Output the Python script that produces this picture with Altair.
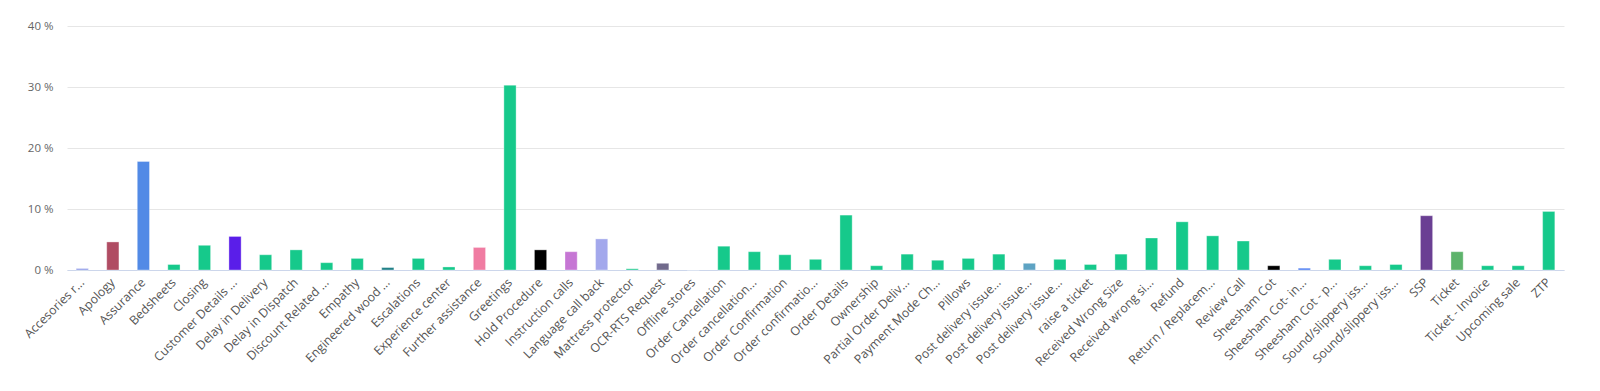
import altair as alt
import pandas as pd

labels = [
    "Accesories r...", "Apology", "Assurance", "Bedsheets", "Closing",
    "Customer Details ...", "Delay in Delivery", "Delay in Dispatch",
    "Discount Related ...", "Empathy", "Engineered wood ...", "Escalations",
    "Experience center", "Further assistance", "Greetings", "Hold Procedure",
    "Instruction calls", "Language call back", "Mattress protector",
    "OCR-RTS Request", "Offline stores", "Order Cancellation",
    "Order cancellation...", "Order Confirmation", "Order confirmatio...",
    "Order Details", "Ownership", "Partial Order Deliv...", "Payment Mode Ch...",
    "Pillows", "Post delivery issue...", "Post delivery issue...",
    "Post delivery issue...", "raise a ticket", "Received Wrong Size",
    "Received wrong si...", "Refund", "Return / Replacem...", "Review Call",
    "Sheesham Cot", "Sheesham Cot- in...", "Sheesham Cot - p...",
    "Sound/slippery iss...", "Sound/slippery iss...", "SSP", "Ticket",
    "Ticket - Invoice", "Upcoming sale", "ZTP",
]

values = [
    0.25, 4.6, 17.8, 0.9, 4.05, 5.5, 2.5, 3.3, 1.2, 1.9, 0.4, 1.9, 0.5, 3.7,
    30.3, 3.3, 3.0, 5.1, 0.2, 1.1, 0.0, 3.9, 3.0, 2.5, 1.75, 9.0, 0.7, 2.6,
    1.6, 1.9, 2.6, 1.1, 1.75, 0.9, 2.6, 5.25, 7.9, 5.6, 4.75, 0.7, 0.3, 1.75,
    0.7, 0.9, 8.9, 3.0, 0.7, 0.7, 9.6,
]

G = "#16c98b"
colors = [
    "#8f9be8", "#b04c63", "#528ae6", G, G, "#5a1ee9", G, G, G, G, "#1f7f87",
    G, G, "#f07ca2", G, "#000000", "#c676d4", "#a3a8ec", G, "#716a8c", G, G,
    G, G, G, G, G, G, G, G, G, "#5ea3c3", G, G, G, G, G, G, G, "#000000",
    "#4f7ff3", G, G, G, "#6a3f93", "#5db36b", G, G, G,
]

keys = [f"k{i:02d}" for i in range(len(labels))]
df = pd.DataFrame({"key": keys, "label": labels, "value": values, "color": colors})

label_map = "{" + ",".join(f"'{k}':'{l}'" for k, l in zip(keys, labels)) + "}"

chart = alt.Chart(df).mark_bar(
    stroke="white", strokeWidth=1, strokeOpacity=0.35
).encode(
    x=alt.X(
        "key:N",
        sort=keys,
        title=None,
        scale=alt.Scale(paddingInner=0.6, paddingOuter=0.3),
        axis=alt.Axis(
            labelExpr=label_map + "[datum.value]",
            labelAngle=-45,
            labelAlign="right",
            labelBaseline="middle",
            labelPadding=10,
            labelFont="Open Sans",
            labelFontSize=12.3,
            labelColor="#555555",
            labelLimit=200,
            ticks=False,
            domainColor="#ccd6eb",
            domainWidth=1,
            grid=False,
        ),
    ),
    y=alt.Y(
        "value:Q",
        title=None,
        scale=alt.Scale(domain=[0, 40], nice=False),
        axis=alt.Axis(
            values=[0, 10, 20, 30, 40],
            labelExpr="datum.value + ' %'",
            labelFont="Open Sans",
            labelFontSize=11.5,
            labelColor="#666666",
            labelPadding=14,
            ticks=False,
            domain=False,
            gridColor="#e6e6e6",
            gridWidth=1,
        ),
    ),
    color=alt.Color("color:N", scale=None, legend=None),
).properties(
    width=1497,
    height=244,
    autosize=alt.AutoSizeParams(type="none"),
    padding={"left": 59, "top": 18, "right": 20, "bottom": 105},
).configure_view(stroke=None)

chart.save("out.html", embed_options={"renderer": "svg", "actions": False})
